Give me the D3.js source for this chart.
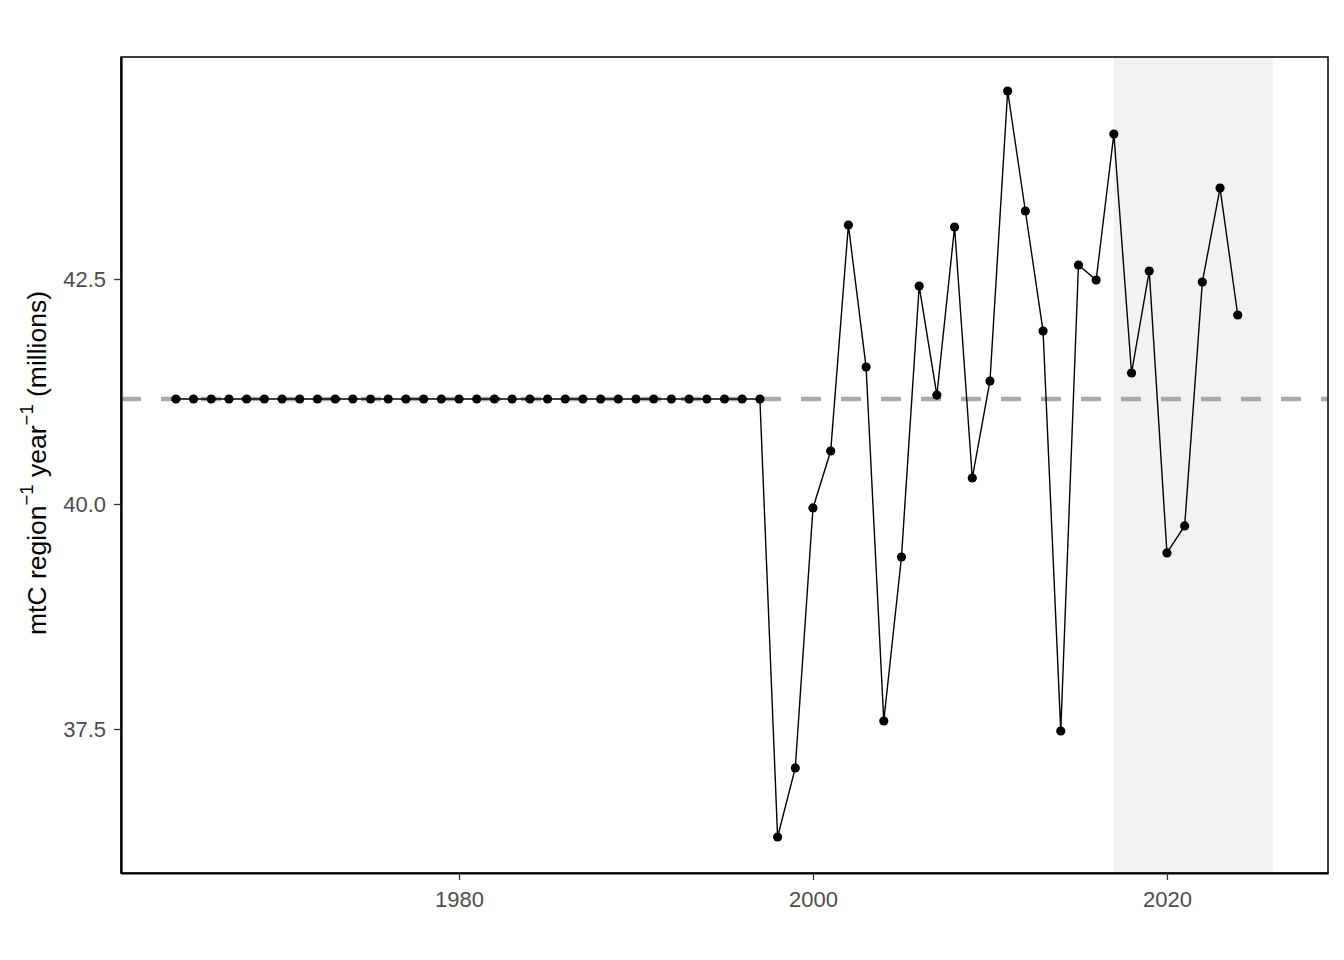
<!DOCTYPE html>
<html><head><meta charset="utf-8">
<script src="https://cdn.jsdelivr.net/npm/d3@7"></script>
<style>body{margin:0;background:#fff;} svg{display:block;}</style>
</head><body>
<svg id="c" width="1344" height="960"></svg>
<script>
const years = d3.range(1964, 2025);
const baseline = 41.167;
const flatValues = d3.range(1964, 1998).map(() => baseline);
const varValues = [36.30, 37.067, 39.956, 40.589, 43.10, 41.522, 37.589, 39.411, 42.422, 41.211,
  43.078, 40.289, 41.367, 44.589, 43.256, 41.922, 37.478, 42.656, 42.489, 44.111,
  41.456, 42.589, 39.456, 39.756, 42.467, 43.511, 42.10];
const values = flatValues.concat(varValues);
const shadeRange = [2017, 2026];
const xTicks = [1980, 2000, 2020];
const yTicks = [37.5, 40.0, 42.5];

const data = years.map((y, i) => ({year: y, value: values[i]}));
const svg = d3.select("#c");
const L = 121, R = 1328, T = 57, B = 873;
const x = d3.scaleLinear().domain([1960.9, 2029.1]).range([L, R]);
const y = d3.scaleLinear().domain([35.9, 44.967]).range([B, T]);
const FONT = "Liberation Sans, Arial, sans-serif";

svg.append("rect").attr("x", x(shadeRange[0])).attr("y", T)
  .attr("width", x(shadeRange[1]) - x(shadeRange[0])).attr("height", B - T)
  .attr("fill", "#F2F2F2");

svg.append("line").attr("x1", L).attr("x2", R).attr("y1", y(baseline)).attr("y2", y(baseline))
  .attr("stroke", "#A9A9A9").attr("stroke-width", 4.5).attr("stroke-dasharray", "20,20");

const line = d3.line().x(d => x(d.year)).y(d => y(d.value));
svg.append("path").datum(data).attr("d", line).attr("fill", "none")
  .attr("stroke", "#000").attr("stroke-width", 1.4);
svg.selectAll("circle.pt").data(data).enter().append("circle")
  .attr("class", "pt").attr("cx", d => x(d.year)).attr("cy", d => y(d.value))
  .attr("r", 4.6).attr("fill", "#000");

svg.append("rect").attr("x", L).attr("y", T).attr("width", R - L).attr("height", B - T)
  .attr("fill", "none").attr("stroke", "#000").attr("stroke-width", 1.5);

const xAxis = svg.append("g").attr("transform", `translate(0,${B})`)
  .call(d3.axisBottom(x).tickValues(xTicks).tickFormat(d3.format("d")).tickSizeInner(7).tickSizeOuter(0).tickPadding(11));
const yAxis = svg.append("g").attr("transform", `translate(${L},0)`)
  .call(d3.axisLeft(y).tickValues(yTicks).tickFormat(d3.format(".1f")).tickSizeInner(7).tickSizeOuter(0).tickPadding(8));
[xAxis, yAxis].forEach(g => {
  g.select(".domain").attr("stroke", "#000").attr("stroke-width", 2.2);
  g.selectAll(".tick line").attr("stroke", "#333").attr("stroke-width", 1.3);
  g.selectAll(".tick text").attr("fill", "#4D4D4D").style("font-family", FONT).style("font-size", "22px");
});

const t = svg.append("text").attr("transform", "translate(46,463) rotate(-90)")
  .attr("text-anchor", "middle").style("font-family", FONT)
  .style("font-size", "26.5px").attr("fill", "#000");
t.append("tspan").text("mtC region");
t.append("tspan").attr("dy", -13).style("font-size", "18.5px").text("−1");
t.append("tspan").attr("dy", 13).text(" year");
t.append("tspan").attr("dy", -13).style("font-size", "18.5px").text("−1");
t.append("tspan").attr("dy", 13).text(" (millions)");
</script>
</body></html>
